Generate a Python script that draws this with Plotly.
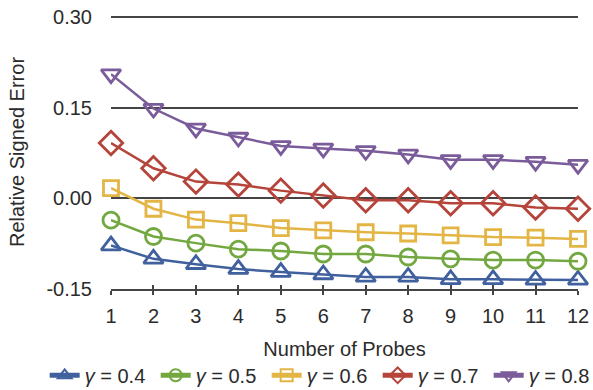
import plotly.graph_objects as go

probes = list(range(1, 13))
gamma_labels = ["0.4", "0.5", "0.6", "0.7", "0.8"]
err_04 = [-0.078, -0.100, -0.109, -0.117, -0.122, -0.126, -0.130, -0.130, -0.134, -0.134, -0.135, -0.135]
err_05 = [-0.036, -0.063, -0.074, -0.084, -0.087, -0.092, -0.092, -0.097, -0.100, -0.102, -0.102, -0.104]
err_06 = [0.017, -0.017, -0.035, -0.041, -0.049, -0.053, -0.056, -0.058, -0.061, -0.064, -0.065, -0.067]
err_07 = [0.092, 0.050, 0.028, 0.023, 0.013, 0.005, -0.003, -0.003, -0.008, -0.008, -0.015, -0.017]
err_08 = [0.206, 0.149, 0.116, 0.101, 0.087, 0.083, 0.079, 0.073, 0.064, 0.064, 0.061, 0.056]
y_ticks = [-0.15, 0.00, 0.15, 0.30]
y_tick_text = ["-0.15", "0.00", "0.15", "0.30"]

series = [err_04, err_05, err_06, err_07, err_08]
colors = ["#41609e", "#72a83f", "#e3b545", "#b5443a", "#7b5c9b"]
symbols = ["triangle-up-open", "circle-open", "square-open", "diamond-open", "triangle-down-open"]
sizes = [17, 16, 15, 18, 17]

FONT = "Liberation Sans, Arial, Helvetica, sans-serif"
TXT = "#2b2b2b"
FS = 20

fig = go.Figure()
for vals, c, s, sz, g in zip(series, colors, symbols, sizes, gamma_labels):
    fig.add_trace(go.Scatter(
        x=probes, y=vals, mode="lines+markers", name=f"<i>γ</i> = {g}",
        line=dict(color=c, width=2.5),
        marker=dict(symbol=s, size=sz, color=c, line=dict(color=c, width=2.8)),
        cliponaxis=False,
    ))

# invisible trace on a twin axis to draw the inward half of the crossing ticks
fig.add_trace(go.Scatter(x=probes, y=[None] * len(probes), xaxis="x2", showlegend=False, hoverinfo="skip"))

fig.update_layout(
    width=593, height=390,
    margin=dict(l=111, r=15, t=15, b=101, autoexpand=False),
    paper_bgcolor="white", plot_bgcolor="white",
    font=dict(family=FONT, size=FS, color=TXT),
    showlegend=True,
    legend=dict(orientation="h", x=-0.142, xanchor="left", y=-0.315, yanchor="middle",
                font=dict(size=FS, color=TXT), itemwidth=30, itemsizing="constant",
                entrywidth=66, entrywidthmode="pixels", tracegroupgap=0,
                bgcolor="rgba(0,0,0,0)"),
    xaxis=dict(range=[1, 12], tickmode="array", tickvals=probes, ticktext=[str(p) for p in probes],
               showgrid=False, zeroline=False, showline=True, linecolor="#444444", linewidth=1.5,
               ticks="outside", ticklen=4, tickwidth=1.5, tickcolor="#444444",
               tickfont=dict(size=FS, color=TXT), ticklabelstandoff=4, automargin=False,
               title=dict(text="Number of Probes", font=dict(size=FS, color=TXT), standoff=16)),
    xaxis2=dict(range=[1, 12], overlaying="x", anchor="y", side="bottom", tickmode="array",
                tickvals=probes, showticklabels=False, showgrid=False, zeroline=False,
                ticks="inside", ticklen=4, tickwidth=1.5, tickcolor="#444444", showline=False,
                automargin=False),
    yaxis=dict(range=[-0.15, 0.304], tickmode="array", tickvals=y_ticks, ticktext=y_tick_text,
               showgrid=True, gridcolor="#444444", gridwidth=1.5, zeroline=False, showline=False,
               ticks="", tickfont=dict(size=FS, color=TXT), ticklabelstandoff=18, automargin=False,
               title=dict(text="Relative Signed Error", font=dict(size=FS, color=TXT), standoff=16)),
)

fig.write_html("out.html", config={"displayModeBar": False},
               post_script="document.body.style.margin='0';")
